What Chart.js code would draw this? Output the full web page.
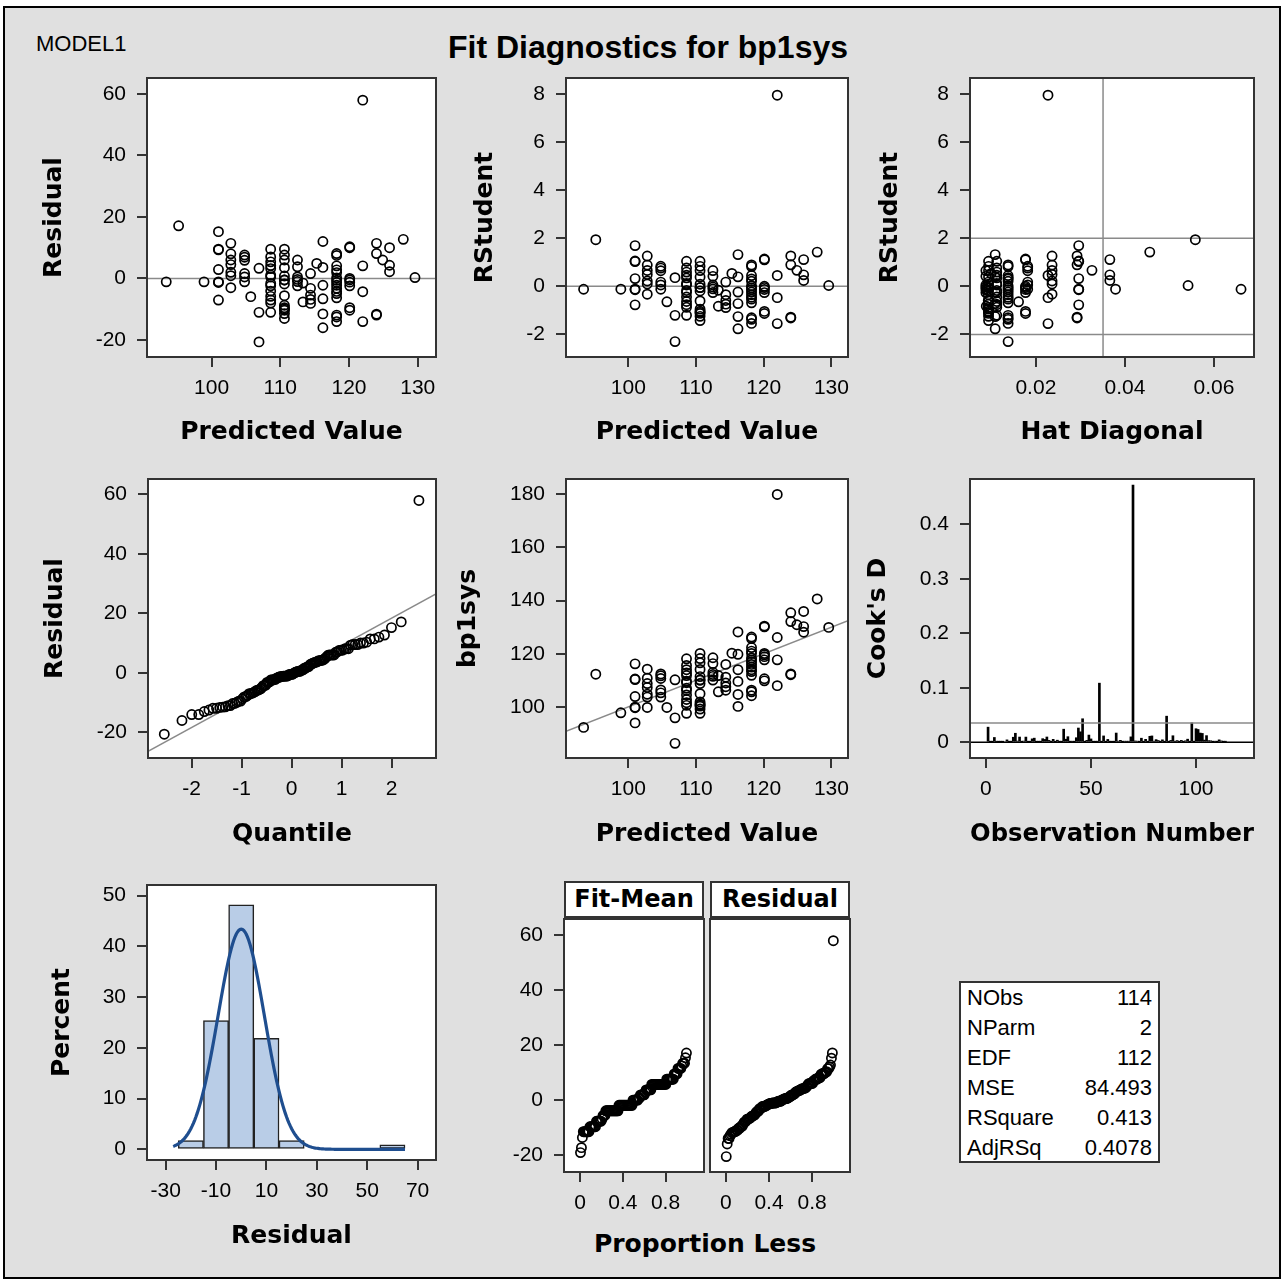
<!DOCTYPE html>
<html>
<head>
<meta charset="utf-8">
<title>Fit Diagnostics for bp1sys</title>
<script src="https://cdn.jsdelivr.net/npm/chart.js@4.4.1/dist/chart.umd.min.js"></script>
<style>
  body { margin: 0; width: 1284px; height: 1282px; background: #fff; position: relative; overflow: hidden;
         font-family: "Liberation Sans", Arial, sans-serif; }
  #page { position: absolute; left: 3px; top: 6px; width: 1278px; height: 1273px; box-sizing: border-box;
          background: #e0e0e0; border: 2px solid #000; }
  canvas { position: absolute; }
  .lbl { position: absolute; white-space: nowrap; color: #000; }
  #model { left: 36px; top: 31px; font-size: 22px; line-height: 26px; }
  #title { left: 248px; width: 800px; top: 27px; text-align: center; font-size: 32px; font-weight: bold; line-height: 40px; }
  .hdr { position: absolute; top: 881px; height: 37px; width: 140px; box-sizing: border-box; background: #fff;
         border: 2px solid #333; font: bold 24px "DejaVu Sans", Verdana, sans-serif; text-align: center; line-height: 33px; }
  #propless { left: 505px; width: 400px; top: 1229px; text-align: center;
              font: bold 25px "DejaVu Sans", Verdana, sans-serif; line-height: 30px; }
  #stats { position: absolute; left: 959px; top: 981px; width: 201px; height: 182px; box-sizing: border-box;
           background: #fff; border: 2px solid #333; padding: 0 6px; font-size: 22px; }
  #stats div { display: flex; justify-content: space-between; height: 30px; line-height: 30px; }
</style>
</head>
<body>
<div id="page"></div>
<div class="lbl" id="model">MODEL1</div>
<div class="lbl" id="title">Fit Diagnostics for bp1sys</div>
<div class="hdr" style="left:564px">Fit-Mean</div>
<div class="hdr" style="left:710px">Residual</div>
<div class="lbl" id="propless">Proportion Less</div>
<div id="stats"></div>

<script>
// DATA (observation order 1..114)

const predicted = [
  122.0, 110.6, 118.2, 116.2, 108.6, 112.5, 104.8, 93.4, 120.1, 110.6,
  114.4, 102.8, 101.0, 118.2, 118.2, 116.2, 108.6, 110.6, 102.8, 113.3,
  118.2, 108.6, 124.9, 112.5, 101.0, 116.2, 104.8, 110.6, 110.6, 108.6,
  118.2, 104.8, 110.6, 114.4, 108.6, 120.1, 124.0, 118.2, 106.9, 110.6,
  102.8, 108.6, 108.6, 124.0, 102.8, 101.0, 112.5, 118.2, 118.2, 110.6,
  106.9, 114.4, 108.6, 95.2, 118.2, 120.1, 104.8, 110.6, 112.5, 129.6,
  118.2, 116.2, 108.6, 105.7, 110.6, 114.4, 118.2, 101.0, 120.1, 122.0,
  108.6, 112.5, 110.6, 110.6, 118.2, 102.8, 108.6, 120.1, 120.1, 110.6,
  118.2, 113.3, 104.8, 108.6, 116.2, 127.9, 112.5, 110.6, 118.2, 118.2,
  102.8, 98.9, 108.6, 120.1, 114.4, 110.6, 118.2, 106.9, 101.0, 124.0,
  125.9, 101.0, 101.0, 104.8, 124.0, 116.2, 122.0, 108.6, 115.3, 102.8,
  125.9, 122.0, 120.1, 125.9
];

const residual = [
  -14.0, -0.5, 2.8, -11.5, 4.2, 0.5, 1.6, -1.1, 0.0, -8.7,
  -3.2, 0.9, -7.0, -14.0, -4.9, 12.0, -2.4, 6.0, 8.0, -1.5,
  0.2, 9.5, 6.0, -2.4, -1.1, 3.6, 7.6, -9.5, -13.0, -7.0,
  -1.3, 6.9, 0.8, -8.1, 1.1, -2.4, 11.4, 8.1, -11.0, -1.8,
  -3.0, 0.5, -11.0, -11.9, 11.4, 15.2, 3.8, -6.3, -12.5, -10.3,
  3.3, 1.6, -4.1, 17.1, 1.9, -10.3, -1.1, 9.5, -0.3, 0.3,
  -3.2, -16.0, 5.4, -5.9, -0.5, -5.4, 4.1, 2.9, -9.5, 57.9,
  -5.8, 6.0, 3.5, -11.4, -2.2, 6.0, 3.2, 10.0, 10.3, -5.6,
  7.5, -7.6, 0.5, -8.0, -2.2, 12.7, -1.0, 7.6, -11.9, -4.2,
  4.5, -1.1, 7.0, -0.5, -6.8, -9.9, -0.6, -20.6, -1.3, -11.6,
  10.0, 9.5, 9.3, 5.9, 8.1, -6.6, -4.3, -1.6, 4.9, 2.0,
  4.3, 4.1, -1.2, 2.2
];

// histogram of residuals (bin midpoints, percent)
const histCenters = [-20, -10, 0, 10, 20, 30, 40, 50, 60];
const histPercent = [1.75, 25.4, 48.2, 21.9, 1.75, 0, 0, 0, 0.88];

const statLabels = ["NObs", "NParm", "EDF", "MSE", "RSquare", "AdjRSq"];
const statValues = [114, 2, 112, 84.493, 0.413, 0.4078];

// tick labels
const predTicks = [100, 110, 120, 130];
const residTicks = [-20, 0, 20, 40, 60];
const rstudTicks = [-2, 0, 2, 4, 6, 8];
const hatTicks = [0.02, 0.04, 0.06];
const quantTicks = [-2, -1, 0, 1, 2];
const obsvTicks = [100, 120, 140, 160, 180];
const obsNumTicks = [0, 50, 100];
const cookTicks = [0, 0.1, 0.2, 0.3, 0.4];
const histXTicks = [-30, -10, 10, 30, 50, 70];
const pctTicks = [0, 10, 20, 30, 40, 50];
const propTicks = [0, 0.4, 0.8];

// DERIVED DIAGNOSTICS

const n = predicted.length;
const nParm = statValues[1];
const mse = statValues[3];
const sigma = Math.sqrt(mse);
const sse = mse * (n - nParm);

const meanPred = predicted.reduce((a, b) => a + b, 0) / n;
const sxx = predicted.reduce((a, p) => a + (p - meanPred) ** 2, 0);
const hat = predicted.map(p => 1 / n + (p - meanPred) ** 2 / sxx);

const rstudent = residual.map((r, i) => {
  const h = hat[i];
  const s2 = (sse - r * r / (1 - h)) / (n - nParm - 1);
  return r / Math.sqrt(s2 * (1 - h));
});

const cooksD = residual.map((r, i) => r * r * hat[i] / (nParm * mse * (1 - hat[i]) ** 2));
const observed = predicted.map((p, i) => p + residual[i]);
const obsNumber = predicted.map((_, i) => i + 1);

function qnorm(p) {
  const a = [-3.969683028665376e+01, 2.209460984245205e+02, -2.759285104469687e+02, 1.383577518672690e+02, -3.066479806614716e+01, 2.506628277459239e+00];
  const b = [-5.447609879822406e+01, 1.615858368580409e+02, -1.556989798598866e+02, 6.680131188771972e+01, -1.328068155288572e+01];
  const c = [-7.784894002430293e-03, -3.223964580411365e-01, -2.400758277161838e+00, -2.549732539343734e+00, 4.374664141464968e+00, 2.938163982698783e+00];
  const d = [7.784695709041462e-03, 3.224671290700398e-01, 2.445134137142996e+00, 3.754408661907416e+00];
  const pl = 0.02425;
  if (p < pl) {
    const q = Math.sqrt(-2 * Math.log(p));
    return (((((c[0]*q+c[1])*q+c[2])*q+c[3])*q+c[4])*q+c[5]) / ((((d[0]*q+d[1])*q+d[2])*q+d[3])*q+1);
  }
  if (p > 1 - pl) {
    const q = Math.sqrt(-2 * Math.log(1 - p));
    return -(((((c[0]*q+c[1])*q+c[2])*q+c[3])*q+c[4])*q+c[5]) / ((((d[0]*q+d[1])*q+d[2])*q+d[3])*q+1);
  }
  const q = p - 0.5, r = q * q;
  return (((((a[0]*r+a[1])*r+a[2])*r+a[3])*r+a[4])*r+a[5])*q / (((((b[0]*r+b[1])*r+b[2])*r+b[3])*r+b[4])*r+1);
}

const residSorted = residual.slice().sort((a, b) => a - b);
const quantiles = residSorted.map((_, i) => qnorm((i + 1 - 0.375) / (n + 0.25)));
const fitMeanSorted = predicted.map(p => p - meanPred).sort((a, b) => a - b);
const propLess = residSorted.map((_, i) => (i + 0.5) / n);

// STYLE / LAYOUT HELPERS

const TICK_FONT = { family: '"Liberation Sans", Arial, sans-serif', size: 21 };
const TITLE_FONT = { family: '"DejaVu Sans", Verdana, sans-serif', size: 25, weight: 'bold' };
const TITLE_HALF = TITLE_FONT.size * 1.2 / 2;
const PAD_T = 30, PAD_R = 30;
const REF = '#8a8a8a';

const framePlugin = {
  id: 'frame',
  beforeDraw(chart) {
    const { ctx, chartArea: a } = chart;
    ctx.save();
    ctx.fillStyle = '#fff';
    ctx.fillRect(a.left, a.top, a.width, a.height);
    ctx.restore();
  },
  afterDraw(chart) {
    const { ctx, chartArea: a } = chart;
    ctx.save();
    ctx.strokeStyle = '#333';
    ctx.lineWidth = 2;
    ctx.strokeRect(a.left, a.top, a.width, a.height);
    ctx.restore();
  }
};

function scaleOpts(ax, which, size) {
  return {
    type: 'linear', min: ax.min, max: ax.max, display: !ax.hidden, offset: false,
    afterBuildTicks: s => { s.ticks = ax.ticks.map(v => ({ value: v })); },
    afterFit: s => { if (which === 'x') s.height = size; else s.width = size; },
    grid: { offset: false, drawOnChartArea: false, drawTicks: true, tickLength: 10, color: '#333', lineWidth: 2 },
    border: { display: false },
    ticks: { autoSkip: false, maxRotation: 0, color: '#000', font: TICK_FONT,
             padding: which === 'x' ? 9 : 11, callback: v => String(v) },
    title: { display: !!ax.title, text: ax.title || '', color: '#000', font: TITLE_FONT, padding: 0 }
  };
}

function addPanel(frame, yTitleX, xTitleY, xAxis, yAxis, datasets) {
  const [x0, y0, x1, y1] = frame;
  const left = Math.round(yAxis.hidden ? x0 - 40 : (yAxis.title ? yTitleX - TITLE_HALF : x0 - 70));
  const top = y0 - PAD_T;
  const bottom = Math.round(xAxis.title ? xTitleY + TITLE_HALF : y1 + 50);
  const right = x1 + PAD_R;
  const L = x0 - left, B = bottom - y1;

  const cv = document.createElement('canvas');
  cv.width = right - left;
  cv.height = bottom - top;
  cv.style.left = left + 'px';
  cv.style.top = top + 'px';
  document.body.appendChild(cv);

  // afterFit runs even for a hidden axis, so its width L always sets the plot's left edge
  return new Chart(cv, {
    type: 'scatter',
    data: { datasets },
    options: {
      responsive: false, animation: false, devicePixelRatio: 1,
      layout: { padding: { top: PAD_T, right: PAD_R, bottom: 0, left: 0 } },
      plugins: { legend: { display: false }, tooltip: { enabled: false } },
      scales: { x: scaleOpts(xAxis, 'x', B), y: scaleOpts(yAxis, 'y', L) }
    },
    plugins: [framePlugin]
  });
}

function points(xs, ys) {
  return {
    type: 'scatter', data: xs.map((x, i) => ({ x, y: ys[i] })),
    borderColor: '#000', backgroundColor: 'rgba(0,0,0,0)', borderWidth: 1.7,
    pointRadius: 4.6, pointHoverRadius: 4.6, order: 1
  };
}

function refLine(pts, color, width) {
  return { type: 'line', data: pts, borderColor: color, borderWidth: width, showLine: true,
           pointRadius: 0, fill: false, order: 2 };
}

function hLine(ax, y, color, w) { return refLine([{ x: ax.min, y }, { x: ax.max, y }], color || REF, w || 1.5); }
function vLine(ax, x, color, w) { return refLine([{ x, y: ax.min }, { x, y: ax.max }], color || REF, w || 1.5); }

// ROW 1

const x1Axis = { min: 90.6, max: 132.66, ticks: predTicks, title: 'Predicted Value' };
const y1Axis = { min: -25.5, max: 65.1, ticks: residTicks, title: 'Residual' };
addPanel([147, 78, 436, 357], 54, 432, x1Axis, y1Axis,
  [points(predicted, residual), hLine(x1Axis, 0)]);

const x2Axis = { min: 90.8, max: 132.45, ticks: predTicks, title: 'Predicted Value' };
const y2Axis = { min: -2.94, max: 8.66, ticks: rstudTicks, title: 'RStudent' };
addPanel([566, 78, 848, 357], 485, 432, x2Axis, y2Axis,
  [points(predicted, rstudent), hLine(x2Axis, 0)]);

const x3Axis = { min: 0.0052, max: 0.069, ticks: hatTicks, title: 'Hat Diagonal' };
const y3Axis = { min: -2.94, max: 8.66, ticks: rstudTicks, title: 'RStudent' };
addPanel([970, 78, 1254, 357], 890, 432, x3Axis, y3Axis,
  [points(hat, rstudent), hLine(x3Axis, 2), hLine(x3Axis, -2), vLine(y3Axis, 2 * nParm / n)]);

// ROW 2

const x4Axis = { min: -2.87, max: 2.886, ticks: quantTicks, title: 'Quantile' };
const y4Axis = { min: -28.6, max: 65.1, ticks: residTicks, title: 'Residual' };
addPanel([148, 479, 436, 758], 55, 834, x4Axis, y4Axis,
  [points(quantiles, residSorted),
   refLine([{ x: x4Axis.min, y: sigma * x4Axis.min }, { x: x4Axis.max, y: sigma * x4Axis.max }], REF, 1.5)]);

const x5Axis = { min: 90.8, max: 132.45, ticks: predTicks, title: 'Predicted Value' };
const y5Axis = { min: 80.8, max: 185.7, ticks: obsvTicks, title: 'bp1sys' };
addPanel([566, 479, 848, 758], 468, 834, x5Axis, y5Axis,
  [points(predicted, observed),
   refLine([{ x: x5Axis.min, y: x5Axis.min }, { x: x5Axis.max, y: x5Axis.max }], REF, 1.5)]);

const x6Axis = { min: -7.6, max: 127.6, ticks: obsNumTicks, title: 'Observation Number' };
const y6Axis = { min: -0.029, max: 0.483, ticks: cookTicks, title: "Cook's D" };
addPanel([970, 479, 1254, 758], 878, 834, x6Axis, y6Axis, [
  { type: 'bar', data: obsNumber.map((x, i) => ({ x, y: cooksD[i] })), backgroundColor: '#000',
    borderWidth: 0, barThickness: 2, order: 2 },
  Object.assign(hLine(x6Axis, 0, '#000', 1.5), { order: 1 }),
  Object.assign(hLine(x6Axis, 4 / n, REF, 1.5), { order: 1 })
]);

// ROW 3

const curveX = [];
for (let x = -27; x <= 65; x += 0.5) curveX.push(x);
const curveY = curveX.map(x => 100 * 10 * Math.exp(-0.5 * (x / sigma) ** 2) / (sigma * Math.sqrt(2 * Math.PI)));

const x7Axis = { min: -37.4, max: 77.3, ticks: histXTicks, title: 'Residual' };
const y7Axis = { min: -2.1, max: 52.1, ticks: pctTicks, title: 'Percent' };
addPanel([147, 885, 436, 1160], 62, 1236, x7Axis, y7Axis, [
  { type: 'line', data: curveX.map((x, i) => ({ x, y: curveY[i] })), borderColor: '#1f4e8f', borderWidth: 3.2,
    pointRadius: 0, showLine: true, fill: false, order: 1 },
  { type: 'bar', data: histCenters.map((x, i) => ({ x, y: histPercent[i] })), backgroundColor: '#b9cde7',
    borderColor: '#222', borderWidth: 1.5, borderSkipped: false, barPercentage: 1, categoryPercentage: 1, order: 2 }
]);

const yRFAxis = { min: -26.2, max: 65.8, ticks: residTicks };
addPanel([564, 919, 704, 1172], 0, 0, { min: -0.15, max: 1.16, ticks: propTicks }, yRFAxis,
  [points(propLess, fitMeanSorted)]);
addPanel([710, 919, 850, 1172], 0, 0, { min: -0.146, max: 1.15, ticks: propTicks },
  Object.assign({}, yRFAxis, { hidden: true }),
  [points(propLess, residSorted)]);

// FIT STATISTICS TABLE

const statsBox = document.getElementById('stats');
statLabels.forEach((lab, i) => {
  statsBox.innerHTML += `<div><span>${lab}</span><span>${statValues[i]}</span></div>`;
});
</script>
</body>
</html>
